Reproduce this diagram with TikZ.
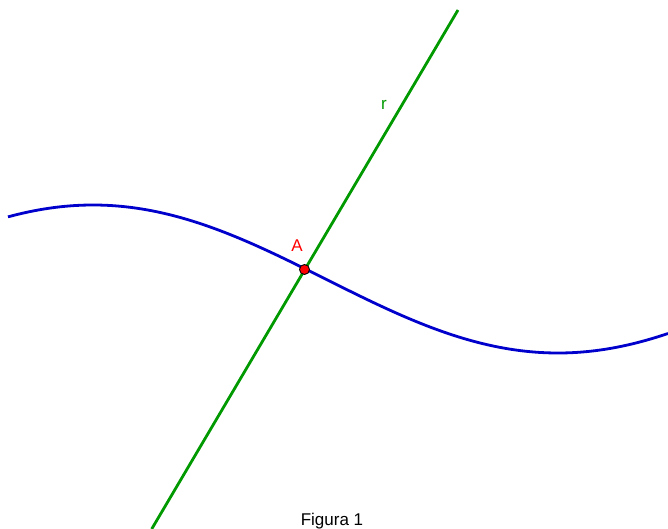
\documentclass[tikz,border=0pt]{standalone}
\usepackage{fontspec}
\setmainfont{Liberation Sans}
\definecolor{curveblue}{RGB}{0,0,204}
\definecolor{linegreen}{RGB}{0,153,0}
\begin{document}
\begin{tikzpicture}[x=1pt,y=-1pt,
  curvestyle/.style={draw=curveblue,line width=2.8pt},
  linestyle/.style={draw=linegreen,line width=2.8pt},
  ptstyle/.style={circle,fill=red,draw=black,line width=0.9pt,inner sep=0pt,minimum size=10pt},
  lbl/.style={font=\fontsize{17}{20}\selectfont,inner sep=0pt}]
\useasboundingbox (0,0) rectangle (668,529);
\coordinate (rtop) at (458,10);
\coordinate (rbot) at (151.7,529);
\draw[linestyle] (rbot) -- (rtop);
\draw[curvestyle,domain=8:668,samples=200,smooth,variable=\x]
  plot (\x,{279+74*sin(((\x-325.5)/465)*180)});
\node[ptstyle] (A) at (304.5,269.5) {};
\node[lbl,text=red] (lA) at (297,245.5) {A};
\node[lbl,text=linegreen] (lr) at (384,104.5) {r};
\node[lbl,anchor=base] (cap) at (332,525) {Figura 1};
\end{tikzpicture}
\end{document}
